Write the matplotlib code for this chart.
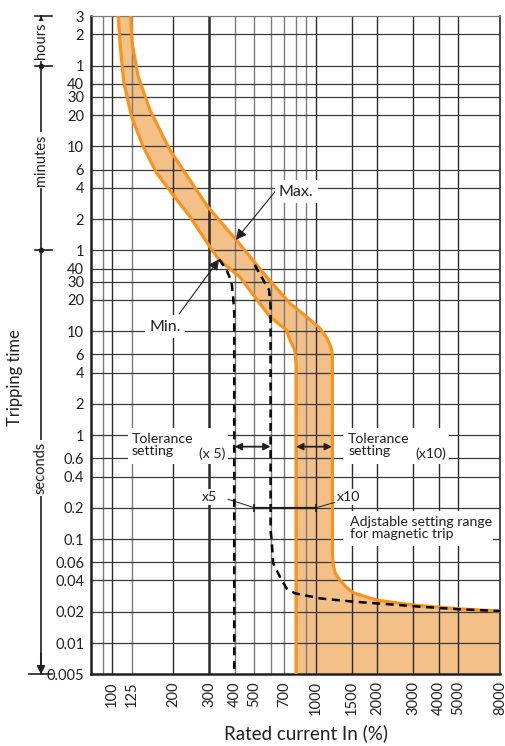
import matplotlib
matplotlib.use('Agg')
import matplotlib.pyplot as plt
from matplotlib.patches import Rectangle

plt.rcParams['font.family'] = ['Lato', 'DejaVu Sans']

INK = '#231F20'
ORANGE = '#F7931E'
FILL = '#F3C087'

# axis ticks (y in seconds, labelled in s / min / h)
sec_ticks = [0.005, 0.01, 0.02, 0.04, 0.06, 0.1, 0.2, 0.4, 0.6, 1, 2, 4, 6, 10, 20, 30, 40]
sec_labels = ['0.005', '0.01', '0.02', '0.04', '0.06', '0.1', '0.2', '0.4', '0.6',
              '1', '2', '4', '6', '10', '20', '30', '40']
min_ticks = [1, 2, 4, 6, 10, 20, 30, 40]
hour_ticks = [1, 2, 3]
x_ticks = [100, 125, 200, 300, 400, 500, 700, 1000, 1500, 2000, 3000, 4000, 5000, 8000]
x_grid = [90, 100, 125, 200, 300, 400, 500, 600, 700, 800, 900, 1000, 1500, 2000, 3000, 4000, 5000]
x_grid_light = [90, 125, 400, 500, 600, 700, 800, 900]

# Max. curve (upper / right boundary of the band)
max_x = [123.6, 125.7, 134.6, 153.6, 192.4, 241, 295, 407, 580, 746, 900, 1046, 1130,
         1185, 1205, 1207, 1215, 1245, 1311, 1400, 1523, 1984, 2989, 5080, 8000]
max_y = [10800, 5956, 2824, 1349, 556, 286, 158, 75.7, 32.5, 18.6, 13.8, 10.7, 8.7,
         7.1, 5.9, 0.075, 0.058, 0.047, 0.0404, 0.035, 0.0305, 0.0259, 0.0232, 0.0213, 0.0203]

# Min. curve (lower / left boundary of the band)
min_x = [107.4, 110.3, 114.5, 124.9, 142.3, 165.6, 196.1, 241.2, 302, 335.7, 424, 595,
         718, 746, 789, 800, 800]
min_y = [10800, 5100, 2455, 1164, 598, 334, 214.5, 126.8, 65.2, 48.6, 33.3, 13.8,
         10.3, 8.25, 6.6, 4.8, 0.005]

# magnetic setting x5 (dashed)
dash5_x = [335.7, 365, 386, 393, 398, 398]
dash5_y = [49.3, 38.9, 30.0, 21.5, 15, 0.005]

# magnetic setting x10 (dashed)
dash10_x = [502, 552, 590, 600, 600, 607, 618, 666, 718, 789, 1046, 1523, 2222, 3235, 5080, 8000]
dash10_y = [43.5, 31.2, 25, 17.2, 0.12, 0.098, 0.0585, 0.0435, 0.0336, 0.0301, 0.0269,
            0.025, 0.0237, 0.02237, 0.0211, 0.0203]

# adjustable setting range for magnetic trip
range_x = [500, 1000]
range_y = 0.2

fig = plt.figure(figsize=(5.06, 7.46), dpi=100)
ax = fig.add_axes([91 / 506, 71.7 / 746, 409 / 506, 658.3 / 746])
ax.set_xscale('log')
ax.set_yscale('log')
ax.set_xlim(79, 8000)
ax.set_ylim(0.005, 10800)

# grid
for xv in x_grid:
    light = xv in x_grid_light
    ax.axvline(xv, color='#7a7a7a' if light else '#2b2b2b',
               lw=1.0 if xv != 300 else 1.8, zorder=2)
y_all = sec_ticks + [m * 60 for m in min_ticks] + [h * 3600 for h in hour_ticks]
for yv in y_all[1:-1]:
    ax.axhline(yv, color='#3a3a3a', lw=0.9, zorder=2)

# orange band
poly_x = max_x + [8000] + min_x[::-1]
poly_y = max_y + [0.005] + min_y[::-1]
ax.fill(poly_x, poly_y, color=FILL, lw=0, zorder=1)
ax.plot(max_x, max_y, color=ORANGE, lw=2.3, solid_joinstyle='round', zorder=3)
ax.plot(min_x, min_y, color=ORANGE, lw=2.3, solid_joinstyle='round', zorder=3)

# dashed magnetic curves
ax.plot(dash5_x, dash5_y, color='black', lw=1.8, ls=(0, (3.2, 2.2)), zorder=4)
ax.plot(dash10_x, dash10_y, color='black', lw=1.8, ls=(0, (3.2, 2.2)), zorder=4)

# white masks behind text blocks
for (x0, x1, y0, y1) in [(120, 370, 0.528, 1.174), (1356, 4487, 0.528, 1.174),
                         (1356, 7380, 0.0859, 0.1865)]:
    ax.add_patch(Rectangle((x0, y0), x1 - x0, y1 - y0, facecolor='white',
                           edgecolor='none', zorder=5))

fs = 10.2
ax.text(125, 0.80, 'Tolerance\nsetting', fontsize=fs, color=INK, va='center', ha='left',
        linespacing=1.0, zorder=6)
ax.text(309, 0.67, '(x 5)', fontsize=fs, color=INK, va='center', ha='center', zorder=6)
ax.text(1440, 0.80, 'Tolerance\nsetting', fontsize=fs, color=INK, va='center', ha='left',
        linespacing=1.0, zorder=6)
ax.text(3665, 0.67, '(x10)', fontsize=fs, color=INK, va='center', ha='center', zorder=6)
ax.text(1467, 0.128, 'Adjstable setting range\nfor magnetic trip', fontsize=fs, color=INK,
        va='center', ha='left', linespacing=1.0, zorder=6)

arrow_kw = dict(arrowstyle='<|-|>', color=INK, lw=1.3, mutation_scale=10,
                shrinkA=0, shrinkB=0)
ax.annotate('', xy=(600, 0.775), xytext=(400, 0.775), arrowprops=arrow_kw, zorder=6)
ax.annotate('', xy=(1200, 0.775), xytext=(800, 0.775), arrowprops=arrow_kw, zorder=6)

# setting range bar
ax.plot(range_x, [range_y, range_y], color=INK, lw=1.6, marker='|', ms=6, mew=1.2, zorder=6)
ax.plot([371, range_x[0]], [0.2417, range_y], color=INK, lw=0.7, zorder=6)
ax.plot([1361, range_x[1]], [0.2379, range_y], color=INK, lw=0.7, zorder=6)
box = dict(facecolor='white', edgecolor='none', pad=1.2)
ax.text(302, 0.255, 'x5', fontsize=fs, color=INK, ha='center', va='center', bbox=box, zorder=6)
ax.text(1450, 0.255, 'x10', fontsize=fs, color=INK, ha='center', va='center', bbox=box, zorder=6)

# Max. / Min. callouts
ptr = dict(arrowstyle='-|>', color=INK, lw=0.8, mutation_scale=16, shrinkA=0, shrinkB=0)
ax.annotate('', xy=(405, 75.7), xytext=(641, 229), arrowprops=ptr, zorder=6)
ax.annotate('', xy=(335.7, 49.3), xytext=(213.8, 14.7), arrowprops=ptr, zorder=6)
box2 = dict(facecolor='white', edgecolor='none', pad=3)
ax.text(800, 221, 'Max.', fontsize=11.5, color=INK, ha='center', va='center', bbox=box2, zorder=7)
ax.text(182, 11.1, 'Min.', fontsize=11.5, color=INK, ha='center', va='center', bbox=box2, zorder=7)

# ticks
ax.minorticks_off()
ax.set_xticks(x_ticks)
ax.set_xticklabels([str(v) for v in x_ticks], rotation=90, fontsize=10.5, color=INK)
ax.set_yticks(y_all)
ax.set_yticklabels(sec_labels + [str(m) for m in min_ticks] + [str(h) for h in hour_ticks],
                   fontsize=10.5, color=INK)
ax.tick_params(axis='both', length=0, pad=5)
ax.set_xlabel('Rated current In (%)', fontsize=13.5, color=INK, va='center')
ax.xaxis.set_label_coords((306 - 91) / 409, (674.3 - 733) / 658.3)

for side in ['left', 'bottom']:
    ax.spines[side].set_linewidth(1.8)
    ax.spines[side].set_color(INK)
ax.spines['top'].set_linewidth(0.9)
ax.spines['top'].set_color('#7a7a7a')
ax.spines['right'].set_linewidth(1.2)
ax.spines['right'].set_color('#2b2b2b')

# time-unit bracket on the left
tr = ax.get_yaxis_transform()
bx = -0.1222
ax.plot([bx, bx], [0.005, 10800], transform=tr, color=INK, lw=1.2, clip_on=False)
for yv, x0 in [(10800, -0.137), (3600, -0.137), (60, -0.137), (0.005, -0.152)]:
    ax.plot([x0, -0.0954], [yv, yv], transform=tr, color=INK, lw=1.2, clip_on=False)
ax.plot([bx, bx], [3600, 60], transform=tr, color=INK, ls='none', marker='o', ms=3,
        clip_on=False)
head = dict(arrowstyle='-|>', color=INK, lw=1.2, mutation_scale=12, shrinkA=0, shrinkB=0)
ax.annotate('', xy=(bx, 10800), xytext=(bx, 7000), xycoords=tr, textcoords=tr,
            arrowprops=head, annotation_clip=False)
ax.annotate('', xy=(bx, 0.005), xytext=(bx, 0.008), xycoords=tr, textcoords=tr,
            arrowprops=head, annotation_clip=False)
wbox = dict(facecolor='white', edgecolor='none', pad=1.5)
for label, yv in [('hours', 6220), ('minutes', 445), ('seconds', 0.48)]:
    ax.text(bx, yv, label, transform=tr, rotation=90, fontsize=10.5, color=INK,
            ha='center', va='center', bbox=wbox, clip_on=False)
fig.text(15 / 506, 1 - 378 / 746, 'Tripping time', rotation=90, fontsize=12, color=INK,
         ha='center', va='center')

fig.savefig('out.png', dpi=100, facecolor='white')
